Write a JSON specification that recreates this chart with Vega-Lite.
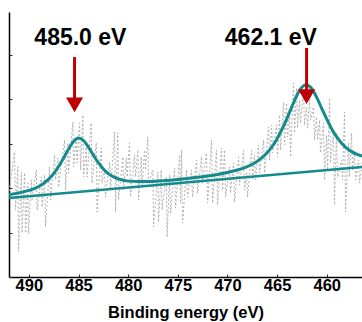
{
  "$schema": "https://vega.github.io/schema/vega-lite/v6.json",
  "width": 353,
  "height": 265,
  "autosize": {"type": "none"},
  "padding": {"left": 9, "top": 12, "right": 0, "bottom": 45},
  "background": "white",
  "config": {
    "view": {"stroke": null},
    "font": "Liberation Sans",
    "axisX": {"labelFont": "Liberation Sans", "labelFontWeight": 700, "labelFontSize": 16.5, "labelColor": "#000000"}
  },
  "datasets": {
    "raw": [
      {"E":492.04,"I":369},{"E":491.44,"I":563},{"E":491.34,"I":302},{"E":491.11,"I":496},{"E":491.04,"I":113},
      {"E":490.76,"I":473},{"E":490.68,"I":198},{"E":490.43,"I":469},{"E":490.33,"I":198},{"E":490.10,"I":423},
      {"E":490.03,"I":194},{"E":489.76,"I":437},{"E":489.68,"I":347},{"E":489.25,"I":482},{"E":489.17,"I":302},
      {"E":488.75,"I":451},{"E":488.67,"I":315},{"E":488.42,"I":460},{"E":488.32,"I":225},{"E":487.92,"I":496},
      {"E":487.81,"I":347},{"E":487.41,"I":550},{"E":487.31,"I":437},{"E":487.08,"I":536},{"E":487.01,"I":405},
      {"E":486.41,"I":617},{"E":486.30,"I":392},{"E":486.07,"I":604},{"E":486.00,"I":469},{"E":485.57,"I":698},
      {"E":485.50,"I":496},{"E":485.23,"I":631},{"E":485.15,"I":514},{"E":484.89,"I":694},{"E":484.79,"I":482},
      {"E":484.56,"I":730},{"E":484.49,"I":451},{"E":484.22,"I":586},{"E":484.14,"I":451},{"E":483.72,"I":694},
      {"E":483.64,"I":423},{"E":483.21,"I":604},{"E":483.13,"I":293},{"E":482.71,"I":581},{"E":482.63,"I":423},
      {"E":482.38,"I":482},{"E":482.28,"I":360},{"E":481.87,"I":518},{"E":481.77,"I":392},{"E":481.37,"I":653},
      {"E":481.27,"I":293},{"E":481.04,"I":649},{"E":480.97,"I":347},{"E":480.53,"I":541},{"E":480.46,"I":392},
      {"E":480.19,"I":536},{"E":480.11,"I":451},{"E":479.86,"I":604},{"E":479.76,"I":360},{"E":479.36,"I":550},
      {"E":479.26,"I":451},{"E":479.02,"I":572},{"E":478.95,"I":347},{"E":478.68,"I":541},{"E":478.60,"I":405},
      {"E":478.35,"I":572},{"E":478.25,"I":482},{"E":478.02,"I":631},{"E":477.95,"I":423},{"E":477.51,"I":482},
      {"E":477.44,"I":225},{"E":477.01,"I":473},{"E":476.94,"I":248},{"E":476.67,"I":482},{"E":476.59,"I":302},
      {"E":476.16,"I":451},{"E":476.08,"I":180},{"E":475.83,"I":460},{"E":475.73,"I":288},{"E":475.33,"I":491},
      {"E":475.23,"I":311},{"E":474.82,"I":550},{"E":474.72,"I":333},{"E":474.62,"I":572},{"E":474.52,"I":243},
      {"E":474.12,"I":482},{"E":474.02,"I":360},{"E":473.62,"I":482},{"E":473.52,"I":360},{"E":473.11,"I":527},
      {"E":473.01,"I":378},{"E":472.61,"I":541},{"E":472.51,"I":423},{"E":472.11,"I":559},{"E":472.00,"I":333},
      {"E":471.60,"I":617},{"E":471.50,"I":333},{"E":471.10,"I":572},{"E":471.00,"I":324},{"E":470.60,"I":581},
      {"E":470.49,"I":392},{"E":470.29,"I":572},{"E":470.19,"I":360},{"E":469.79,"I":496},{"E":469.69,"I":378},
      {"E":469.39,"I":514},{"E":469.29,"I":338},{"E":468.88,"I":541},{"E":468.78,"I":414},{"E":468.38,"I":572},
      {"E":468.28,"I":392},{"E":468.08,"I":469},{"E":467.98,"I":360},{"E":467.57,"I":572},{"E":467.47,"I":437},
      {"E":467.27,"I":550},{"E":467.17,"I":437},{"E":466.87,"I":595},{"E":466.77,"I":469},{"E":466.36,"I":617},
      {"E":466.26,"I":469},{"E":465.86,"I":676},{"E":465.76,"I":527},{"E":465.56,"I":685},{"E":465.46,"I":559},
      {"E":465.06,"I":685},{"E":464.96,"I":541},{"E":464.75,"I":730},{"E":464.65,"I":572},{"E":464.35,"I":788},
      {"E":464.25,"I":595},{"E":464.05,"I":784},{"E":463.95,"I":631},{"E":463.75,"I":752},{"E":463.65,"I":541},
      {"E":463.35,"I":874},{"E":463.24,"I":649},{"E":463.04,"I":851},{"E":462.94,"I":671},{"E":462.74,"I":797},
      {"E":462.64,"I":694},{"E":462.34,"I":842},{"E":462.24,"I":685},{"E":462.03,"I":766},{"E":461.93,"I":671},
      {"E":461.73,"I":797},{"E":461.63,"I":707},{"E":461.33,"I":766},{"E":461.23,"I":617},{"E":461.03,"I":721},
      {"E":460.93,"I":617},{"E":460.73,"I":707},{"E":460.63,"I":559},{"E":460.32,"I":694},{"E":460.22,"I":437},
      {"E":460.02,"I":640},{"E":459.92,"I":482},{"E":459.72,"I":806},{"E":459.62,"I":514},{"E":459.32,"I":662},
      {"E":459.22,"I":324},{"E":459.02,"I":649},{"E":458.91,"I":451},{"E":458.51,"I":527},{"E":458.41,"I":437},
      {"E":458.21,"I":743},{"E":458.11,"I":293},{"E":457.81,"I":604},{"E":457.71,"I":451},{"E":457.50,"I":649},
      {"E":457.40,"I":482},{"E":457.20,"I":559},{"E":457.10,"I":437},{"E":456.80,"I":527},{"E":456.70,"I":423},
      {"E":456.40,"I":527},{"E":456.09,"I":437}
    ],
    "fit": [
      {"E":492,"I":371},{"E":491,"I":379},{"E":490,"I":390},{"E":489,"I":408},{"E":488,"I":441},
      {"E":487.5,"I":466},{"E":487,"I":498},{"E":486.5,"I":536},{"E":486,"I":577},{"E":485.5,"I":611},
      {"E":485,"I":626},{"E":484.5,"I":615},{"E":484,"I":585},{"E":483.5,"I":549},{"E":483,"I":515},
      {"E":482.5,"I":487},{"E":482,"I":466},{"E":481,"I":442},{"E":480,"I":432},{"E":479,"I":430},
      {"E":478,"I":430},{"E":477,"I":432},{"E":476,"I":435},{"E":475,"I":439},{"E":474,"I":444},
      {"E":473,"I":449},{"E":472,"I":455},{"E":471,"I":462},{"E":470,"I":471},{"E":469,"I":482},
      {"E":468,"I":497},{"E":467,"I":521},{"E":466,"I":560},{"E":465.5,"I":588},{"E":465,"I":623},
      {"E":464.5,"I":666},{"E":464,"I":715},{"E":463.5,"I":769},{"E":463,"I":819},{"E":462.5,"I":855},
      {"E":462.1,"I":866},{"E":461.5,"I":848},{"E":461,"I":808},{"E":460.5,"I":759},{"E":460,"I":711},
      {"E":459.5,"I":667},{"E":459,"I":631},{"E":458.5,"I":603},{"E":458,"I":581},{"E":457.5,"I":565},
      {"E":457,"I":554},{"E":456.5,"I":546},{"E":456,"I":540}
    ],
    "baseline": [{"E":492.5,"I":354},{"E":456,"I":497}],
    "arrows": [
      {"E":485.4,"I":991,"I2":797,"head":775},
      {"E":462.03,"I":1032,"I2":842,"head":813}
    ],
    "labels": [
      {"E":484.81,"I":1046,"text":"485.0 eV"},
      {"E":465.63,"I":1046,"text":"462.1 eV"}
    ]
  },
  "layer": [
    {
      "data": {"name": "raw"},
      "mark": {"type": "line", "color": "#b0b0b0", "strokeWidth": 1, "strokeDash": [2, 2], "clip": true},
      "encoding": {
        "x": {
          "field": "E", "type": "quantitative",
          "scale": {"domain": [456.45, 492], "reverse": true, "nice": false, "zero": false},
          "axis": {
            "values": [490, 485, 480, 475, 470, 465, 460],
            "labelOverlap": false,
            "tickSize": -3, "tickColor": "#333333", "tickWidth": 1,
            "domainColor": "black", "domainWidth": 1.5,
            "labelFont": "Liberation Sans", "labelFontSize": 16.5, "labelFontWeight": 700, "labelColor": "#000000",
            "labelPadding": 3, "labelFlush": false,
            "grid": false,
            "title": "Binding energy (eV)", "titleFont": "Liberation Sans", "titleFontSize": 16.5,
            "titleFontWeight": "bold", "titleColor": "black", "titlePadding": 11
          }
        },
        "y": {
          "field": "I", "type": "quantitative",
          "scale": {"domain": [0, 1194], "nice": false, "zero": false},
          "axis": {
            "values": [0, 100, 200, 300, 400, 500, 600, 700, 800, 900, 1000, 1100],
            "labels": false, "title": null, "grid": false,
            "tickSize": -3, "tickColor": "#333333", "tickWidth": 1,
            "domainColor": "black", "domainWidth": 1.5
          }
        }
      }
    },
    {
      "data": {"name": "baseline"},
      "mark": {"type": "line", "color": "#138a8c", "strokeWidth": 2.5, "clip": true},
      "encoding": {
        "x": {"field": "E", "type": "quantitative"},
        "y": {"field": "I", "type": "quantitative"}
      }
    },
    {
      "data": {"name": "fit"},
      "mark": {"type": "line", "color": "#138a8c", "strokeWidth": 3, "interpolate": "monotone", "clip": true},
      "encoding": {
        "x": {"field": "E", "type": "quantitative"},
        "y": {"field": "I", "type": "quantitative"}
      }
    },
    {
      "data": {"name": "arrows"},
      "mark": {"type": "rule", "color": "#c00000", "strokeWidth": 3},
      "encoding": {
        "x": {"field": "E", "type": "quantitative"},
        "y": {"field": "I", "type": "quantitative"},
        "y2": {"field": "I2"}
      }
    },
    {
      "data": {"name": "arrows"},
      "mark": {"type": "point", "shape": "triangle-down", "size": 290, "filled": true, "color": "#c00000", "opacity": 1},
      "encoding": {
        "x": {"field": "E", "type": "quantitative"},
        "y": {"field": "head", "type": "quantitative"}
      }
    },
    {
      "data": {"name": "labels"},
      "mark": {"type": "text", "font": "Liberation Sans", "fontSize": 23, "fontWeight": "bold", "color": "black", "align": "center", "baseline": "alphabetic"},
      "encoding": {
        "x": {"field": "E", "type": "quantitative"},
        "y": {"field": "I", "type": "quantitative"},
        "text": {"field": "text"}
      }
    },
    {
      "mark": {"type": "rule", "color": "black", "strokeWidth": 1.5},
      "encoding": {"y": {"datum": 1194}}
    }
  ]
}
